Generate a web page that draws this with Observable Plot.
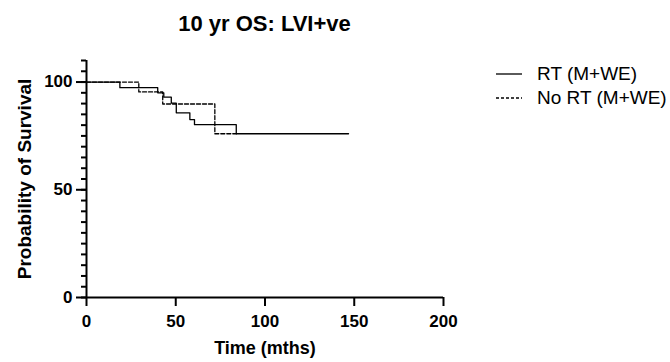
<!DOCTYPE html>
<html>
<head>
<meta charset="utf-8">
<script src="https://cdn.jsdelivr.net/npm/d3@7"></script>
<script src="https://cdn.jsdelivr.net/npm/@observablehq/plot@0.6"></script>
<style>
  html, body { margin: 0; padding: 0; background: #fff; }
  #wrap { position: relative; width: 670px; height: 362px; font-family: "Liberation Sans", Arial, sans-serif; color: #000; }
  #title { position: absolute; left: 86px; width: 357px; top: 11px; text-align: center; font-weight: bold; font-size: 22px; }
  .leg { position: absolute; left: 496px; font-size: 19px; display: flex; align-items: center; }
  .leg svg { margin-right: 15px; }
</style>
</head>
<body>
<div id="wrap">
  <div id="chart"></div>
  <div id="title">10 yr OS: LVI+ve</div>
  <div class="leg" style="top:63px"><svg width="26" height="4"><line x1="0" x2="26" y1="2" y2="2" stroke="#000" stroke-width="1.3"/></svg>RT (M+WE)</div>
  <div class="leg" style="top:87px"><svg width="26" height="4"><line x1="0" x2="26" y1="2" y2="2" stroke="#000" stroke-width="1.3" stroke-dasharray="3,2"/></svg>No RT (M+WE)</div>
</div>
<script>
const rtTime = [0, 18.7, 39.9, 43.3, 47.5, 50.3, 57.9, 60.5, 83.9, 146.8];
const rtSurv = [100, 97.4, 95.0, 93.0, 90.2, 85.7, 82.6, 80.2, 76.0, 76.0];
const noRtTime = [0, 29.3, 42.7, 71.9, 84];
const noRtSurv = [100, 95.4, 89.8, 76.0, 76.0];
const xTicks = [0, 50, 100, 150, 200];
const yTicks = [0, 50, 100];
const yMinor = d3.range(0, 111, 5);

const rt = rtTime.map((t, i) => ({t, s: rtSurv[i]}));
const nort = noRtTime.map((t, i) => ({t, s: noRtSurv[i]}));

const chart = Plot.plot({
  width: 670, height: 362,
  marginLeft: 86, marginRight: 227, marginTop: 60, marginBottom: 65,
  style: {fontFamily: "Liberation Sans, Arial, sans-serif", color: "#000", background: "#fff"},
  x: {domain: [0, 200]},
  y: {domain: [0, 110]},
  marks: [
    Plot.axisY({ticks: yMinor, tickSize: 5, tickFormat: () => "", strokeWidth: 2, label: null}),
    Plot.axisY({ticks: yTicks, tickSize: 10, tickPadding: 4, strokeWidth: 2, fontSize: 17, fontWeight: "bold", label: null}),
    Plot.axisY({ticks: [], label: "Probability of Survival", labelArrow: "none", labelAnchor: "center", labelOffset: 69, fontSize: 19, fontWeight: "bold"}),
    Plot.axisX({ticks: xTicks, tickSize: 9, tickPadding: 8, strokeWidth: 2, fontSize: 17, fontWeight: "bold", label: null}),
    Plot.axisX({ticks: [], label: "Time (mths)", labelArrow: "none", labelAnchor: "center", labelOffset: 56, fontSize: 18, fontWeight: "bold"}),
    Plot.ruleX([0], {y1: 0, y2: 110, strokeWidth: 2}),
    Plot.ruleY([0], {x1: 0, x2: 200, strokeWidth: 2}),
    Plot.line(nort, {x: "t", y: "s", curve: "step-after", stroke: "#000", strokeWidth: 1.3, strokeDasharray: "4,2"}),
    Plot.line(rt, {x: "t", y: "s", curve: "step-after", stroke: "#000", strokeWidth: 1.3})
  ]
});
document.getElementById("chart").appendChild(chart);
</script>
</body>
</html>
